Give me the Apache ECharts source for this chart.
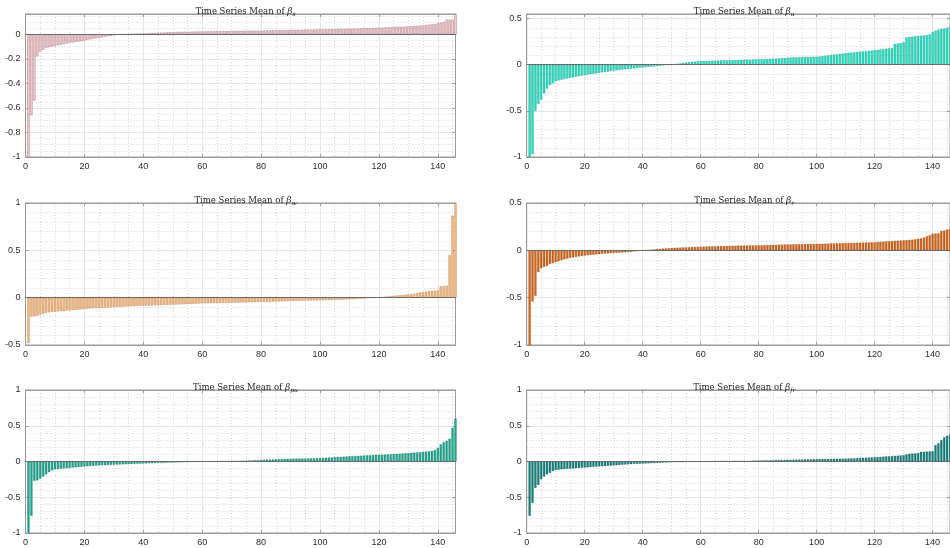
<!DOCTYPE html>
<html>
<head>
<meta charset="utf-8">
<script src="https://cdn.jsdelivr.net/npm/echarts@6/dist/echarts.min.js"></script>
<style>html,body{margin:0;padding:0;background:#fff}#c{width:950px;height:548px}</style>
</head>
<body>
<div id="c"></div>
<script>
// Sorted time-series means (bar index 1..146)
const betaS = [-1.0,-0.66,-0.54,-0.18,-0.14,-0.125,-0.11,-0.105,-0.10,-0.095,-0.09,-0.085,-0.08,-0.075,-0.07,-0.066,-0.062,-0.058,-0.055,-0.05,-0.045,-0.04,-0.036,-0.032,-0.028,-0.024,-0.02,-0.016,-0.012,-0.008,-0.005,-0.002,0.0,0.002,0.003,
0.004,0.005,0.006,0.007,0.008,
0.009,0.010,0.011,0.012,0.013,0.014,0.015,0.016,0.017,0.018,
0.019,0.019,0.02,0.021,0.021,0.022,0.022,0.023,0.023,0.024,
0.024,0.025,0.025,0.025,0.026,0.026,0.026,0.027,0.027,0.027,
0.028,0.028,0.028,0.029,0.029,0.029,0.03,0.03,0.03,0.031,
0.031,0.032,0.032,0.033,0.033,0.034,0.034,0.035,0.035,0.036,
0.036,0.037,0.037,0.038,0.038,0.039,0.039,0.04,0.04,0.041,
0.041,0.042,0.042,0.043,0.043,0.044,0.044,0.045,0.046,0.046,
0.047,0.047,0.048,0.049,0.049,0.05,0.051,0.052,0.053,0.054,
0.055,0.056,0.057,0.058,0.059,0.06,0.061,0.062,0.063,0.065,
0.066,0.068,0.07,0.071,0.073,0.075,0.078,0.081,0.085,0.09,
0.095,0.1,0.12,0.12,0.12,0.165];

const betaU = [-1.0,-0.97,-0.50,-0.425,-0.38,-0.31,-0.26,-0.22,-0.20,-0.18,
-0.17,-0.163,-0.155,-0.148,-0.142,-0.136,-0.13,-0.124,-0.118,-0.113,
-0.108,-0.103,-0.098,-0.093,-0.088,-0.083,-0.079,-0.075,-0.07,-0.065,
-0.061,-0.057,-0.053,-0.05,-0.047,-0.043,-0.04,-0.036,-0.033,-0.03,
-0.027,-0.024,-0.021,-0.018,-0.015,-0.011,-0.007,-0.003,0.001,0.004,
0.008,0.012,0.016,0.02,0.024,0.028,0.031,0.034,0.037,0.04,
0.041,0.042,0.043,0.044,0.045,0.046,0.047,0.048,0.049,0.05,
0.051,0.052,0.053,0.054,0.055,0.056,0.057,0.058,0.059,0.06,
0.061,0.062,0.063,0.064,0.066,0.068,0.07,0.072,0.074,0.076,
0.078,0.079,0.08,0.081,0.082,0.083,0.084,0.085,0.086,0.087,
0.09,0.094,0.098,0.102,0.106,0.11,0.114,0.118,0.122,0.126,
0.13,0.133,0.136,0.139,0.142,0.145,0.148,0.151,0.154,0.158,
0.162,0.166,0.17,0.174,0.178,0.182,
0.225,0.23,0.235,0.245,
0.295,0.30,0.305,0.31,0.312,0.315,0.318,0.322,0.33,0.355,
0.37,0.38,0.39,0.392,0.40,0.41];

const betaW = [-0.48,-0.20,-0.195,-0.19,-0.18,-0.17,-0.16,-0.155,-0.15,-0.148,
-0.145,-0.142,-0.14,-0.137,-0.135,-0.132,-0.13,-0.127,-0.123,-0.118,
-0.116,-0.114,-0.112,-0.11,-0.109,-0.108,-0.106,-0.105,-0.103,-0.10,
-0.099,-0.097,-0.096,-0.094,-0.093,-0.091,-0.09,-0.088,-0.087,-0.085,
-0.084,-0.083,-0.082,-0.081,-0.08,-0.079,-0.078,-0.077,-0.076,-0.074,
-0.073,-0.072,-0.071,-0.07,-0.068,-0.067,-0.066,-0.064,-0.062,-0.06,
-0.06,-0.059,-0.058,-0.058,-0.057,-0.056,-0.055,-0.055,-0.054,-0.053,
-0.053,-0.052,-0.051,-0.051,-0.05,-0.049,-0.048,-0.048,-0.047,-0.046,
-0.045,-0.044,-0.043,-0.042,-0.041,-0.04,-0.039,-0.038,-0.037,-0.036,
-0.035,-0.034,-0.033,-0.032,-0.031,-0.031,-0.03,-0.029,-0.029,-0.028,
-0.027,-0.026,-0.025,-0.024,-0.023,-0.022,-0.021,-0.02,-0.019,-0.018,
-0.016,-0.014,-0.012,-0.01,-0.008,-0.006,-0.004,-0.001,0.003,0.005,
0.008,0.011,0.014,0.017,0.02,0.023,0.026,0.029,0.032,0.035,
0.038,0.042,0.05,0.056,0.058,0.065,0.07,0.072,0.074,0.076,
0.12,0.122,0.126,0.45,0.865,1.0];

const betaR = [-1.0,-0.54,-0.48,-0.23,-0.19,-0.175,-0.165,-0.145,-0.135,-0.125,
-0.115,-0.105,-0.095,-0.088,-0.08,-0.075,-0.07,-0.065,-0.06,-0.055,
-0.052,-0.049,-0.046,-0.043,-0.04,-0.037,-0.035,-0.033,-0.031,-0.029,
-0.027,-0.025,-0.023,-0.021,-0.019,-0.016,-0.013,-0.01,-0.006,-0.002,
0.002,0.005,0.008,0.011,0.014,0.017,0.019,0.021,0.023,0.025,
0.027,0.028,0.029,0.031,0.032,0.033,0.034,0.036,0.037,0.038,
0.039,0.04,0.041,0.042,0.043,0.044,0.045,0.046,0.047,0.048,
0.048,0.049,0.05,0.05,0.051,0.051,0.052,0.052,0.053,0.053,
0.054,0.055,0.056,0.057,0.058,0.059,0.06,0.061,0.062,0.063,
0.063,0.064,0.064,0.065,0.065,0.066,0.066,0.067,0.067,0.068,
0.069,0.07,0.071,0.072,0.073,0.074,0.075,0.076,0.077,0.077,
0.078,0.079,0.079,0.08,0.081,0.082,0.083,0.084,0.085,0.086,
0.088,0.09,0.092,0.094,0.096,0.098,0.1,0.102,0.104,0.106,
0.108,0.11,0.113,0.116,0.122,0.126,0.135,0.15,0.16,0.176,
0.178,0.18,0.205,0.21,0.22,0.225];

const betaPU = [-1.0,-0.76,-0.27,-0.265,-0.24,-0.21,-0.18,-0.15,-0.125,-0.11,
-0.105,-0.1,-0.097,-0.094,-0.09,-0.086,-0.082,-0.078,-0.074,-0.07,
-0.067,-0.064,-0.061,-0.058,-0.055,-0.053,-0.051,-0.049,-0.047,-0.045,
-0.043,-0.042,-0.04,-0.039,-0.037,-0.036,-0.034,-0.032,-0.03,-0.028,
-0.027,-0.025,-0.024,-0.022,-0.02,-0.019,-0.018,-0.016,-0.015,-0.014,
-0.013,-0.012,-0.011,-0.01,-0.009,-0.007,-0.005,-0.003,-0.001,0.0,
0.001,0.002,0.003,0.003,0.004,0.005,0.006,0.006,0.007,0.008,
0.009,0.01,0.011,0.012,0.013,0.014,0.016,0.018,0.02,0.022,
0.024,0.026,0.028,0.03,0.032,0.034,0.036,0.037,0.038,0.04,
0.041,0.042,0.042,0.043,0.043,0.044,0.045,0.045,0.046,0.047,
0.049,0.052,0.055,0.058,0.061,0.064,0.066,0.068,0.071,0.074,
0.076,0.078,0.08,0.082,0.084,0.086,0.088,0.09,0.092,0.093,
0.095,0.097,0.099,0.101,0.104,0.107,0.11,0.113,0.116,0.12,
0.122,0.125,0.128,0.131,0.135,0.139,0.143,0.148,0.16,0.19,
0.24,0.27,0.29,0.32,0.47,0.6];

const betaFR = [-0.76,-0.58,-0.37,-0.33,-0.25,-0.21,-0.18,-0.16,-0.135,-0.12,
-0.115,-0.11,-0.106,-0.102,-0.1,-0.097,-0.094,-0.091,-0.088,-0.085,
-0.082,-0.079,-0.076,-0.073,-0.07,-0.067,-0.064,-0.061,-0.058,-0.055,
-0.052,-0.049,-0.046,-0.043,-0.04,-0.038,-0.036,-0.034,-0.032,-0.03,
-0.028,-0.026,-0.024,-0.022,-0.02,-0.018,-0.016,-0.014,-0.012,-0.011,
-0.01,-0.009,-0.008,-0.007,-0.003,-0.002,-0.001,0.0,0.001,0.001,
0.002,0.003,0.003,0.004,0.004,0.005,0.005,0.006,0.006,0.007,
0.007,0.008,0.008,0.009,0.009,0.01,0.011,0.012,0.013,0.014,
0.015,0.016,0.017,0.018,0.019,0.02,0.021,0.022,0.023,0.024,
0.025,0.026,0.027,0.028,0.029,0.03,0.031,0.032,0.033,0.034,
0.035,0.036,0.036,0.037,0.038,0.038,0.039,0.04,0.041,0.042,
0.043,0.045,0.046,0.048,0.05,0.052,0.054,0.056,0.058,0.06,
0.063,0.066,0.069,0.072,0.074,0.077,0.08,0.083,0.085,0.088,
0.1,0.11,0.112,0.114,0.12,0.135,0.137,0.14,0.142,0.144,
0.23,0.256,0.3,0.34,0.36,0.38];

const titleSubs = ['s', 'u', 'w', 'r', 'pu', 'fr'];
const xTickStep = 20;

const panels = [
  {sub: titleSubs[0], data: betaS,  color: '#f8ccd3', edge: 'rgba(110,60,72,0.75)', yMin: -1, yMax: 0.166, yInt: 0.2, yMinor: 4, row: 0, col: 0},
  {sub: titleSubs[1], data: betaU,  color: '#1de8c9', edge: 'rgba(10,90,78,0.6)', yMin: -1, yMax: 0.55, yInt: 0.5, yMinor: 5, row: 0, col: 1},
  {sub: titleSubs[2], data: betaW,  color: '#fbb97a', edge: 'rgba(120,78,40,0.6)', yMin: -0.5, yMax: 1, yInt: 0.5, yMinor: 5, row: 1, col: 0},
  {sub: titleSubs[3], data: betaR,  color: '#dd6410', edge: 'rgba(90,40,5,0.6)', yMin: -1, yMax: 0.5, yInt: 0.5, yMinor: 5, row: 1, col: 1},
  {sub: titleSubs[4], data: betaPU, color: '#19ad93', edge: 'rgba(8,70,60,0.6)', yMin: -1, yMax: 1, yInt: 0.5, yMinor: 5, row: 2, col: 0},
  {sub: titleSubs[5], data: betaFR, color: '#0f8480', edge: 'rgba(5,55,52,0.6)', yMin: -1, yMax: 1, yInt: 0.5, yMinor: 5, row: 2, col: 1}
];

const rowTop = [14, 203, 390];
const rowH = [143, 142, 143];
const colLeft = [25.5, 526.7];
const colW = [430, 427];

const grids = [], xAxes = [], yAxes = [], series = [], titles = [];
const axisCol = '#9a9a9a';
const labelStyle = {color: '#2a2a2a', fontSize: 9, fontFamily: 'Liberation Sans, Arial, sans-serif'};

panels.forEach((p, i) => {
  grids.push({left: colLeft[p.col], top: rowTop[p.row], width: colW[p.col], height: rowH[p.row],
    show: true, borderColor: axisCol, borderWidth: 1, backgroundColor: 'transparent', containLabel: false});
  titles.push({
    text: 'Time Series Mean of {b|β}{s|' + p.sub + '}',
    left: colLeft[p.col] + colW[p.col] / 2 - (p.col === 1 ? 1 : 0),
    top: rowTop[p.row] - 13,
    textAlign: 'center',
    textStyle: {
      fontFamily: 'DejaVu Serif, Liberation Serif, serif', fontSize: 8.5, fontWeight: 'normal', color: '#222',
      rich: {
        b: {fontFamily: 'DejaVu Serif, Liberation Serif, serif', fontStyle: 'italic', fontSize: 9, color: '#222'},
        s: {fontFamily: 'DejaVu Serif, Liberation Serif, serif', fontStyle: 'italic', fontSize: 6, color: '#222', padding: [5, 0, 0, 0]}
      }
    }
  });
  const xMax = 146;
  xAxes.push({
    type: 'value', gridIndex: i, min: 0, max: xMax, interval: xTickStep,
    axisLine: {show: true, onZero: false, lineStyle: {color: axisCol}},
    axisTick: {show: true, inside: true, length: 3, lineStyle: {color: axisCol}},
    axisLabel: Object.assign({margin: 5, showMaxLabel: false}, labelStyle),
    splitLine: {show: true, lineStyle: {color: '#e6e6e6', width: 1}},
    minorTick: {show: false, splitNumber: 4},
    minorSplitLine: {show: true, lineStyle: {color: '#d4d4d4', type: [1, 2], width: 1}}
  });
  xAxes.push({
    type: 'value', gridIndex: i, min: 0, max: xMax, interval: xTickStep, position: 'top',
    axisLine: {show: true, onZero: false, lineStyle: {color: axisCol}},
    axisTick: {show: true, inside: true, length: 3, lineStyle: {color: axisCol}},
    axisLabel: {show: false}, splitLine: {show: false}
  });
  yAxes.push({
    type: 'value', gridIndex: i, min: p.yMin, max: p.yMax, interval: p.yInt,
    axisLine: {show: true, onZero: false, lineStyle: {color: axisCol}},
    axisTick: {show: true, inside: true, length: 3, lineStyle: {color: axisCol}},
    axisLabel: Object.assign({margin: 5, showMaxLabel: Math.abs(p.yMax - 1) < 1e-9 || Math.abs(p.yMax - 0.5) < 1e-9,
      formatter: v => String(Math.round(v * 100) / 100)}, labelStyle),
    splitLine: {show: true, lineStyle: {color: '#e6e6e6', width: 1}},
    minorTick: {show: false, splitNumber: p.yMinor},
    minorSplitLine: {show: true, lineStyle: {color: '#d4d4d4', type: [1, 2], width: 1}}
  });
  yAxes.push({
    type: 'value', gridIndex: i, min: p.yMin, max: p.yMax, interval: p.yInt, position: 'right',
    axisLine: {show: true, onZero: false, lineStyle: {color: axisCol}},
    axisTick: {show: true, inside: true, length: 3, lineStyle: {color: axisCol}},
    axisLabel: {show: false}, splitLine: {show: false}
  });
  series.push({
    type: 'bar', xAxisIndex: i * 2, yAxisIndex: i * 2,
    data: p.data.map((v, k) => [k + 1, v]),
    barWidth: '78%', clip: true,
    itemStyle: {color: p.color, borderColor: p.edge, borderWidth: 0.4},
    markLine: {silent: true, symbol: 'none', label: {show: false}, animation: false,
      lineStyle: {color: '#6a6a6a', width: 1, type: 'solid'}, data: [{yAxis: 0}]}
  });
});

const chart = echarts.init(document.getElementById('c'), null, {renderer: 'canvas'});
chart.setOption({
  animation: false,
  backgroundColor: '#ffffff',
  title: titles,
  grid: grids,
  xAxis: xAxes,
  yAxis: yAxes,
  series: series
});
</script>
</body>
</html>
